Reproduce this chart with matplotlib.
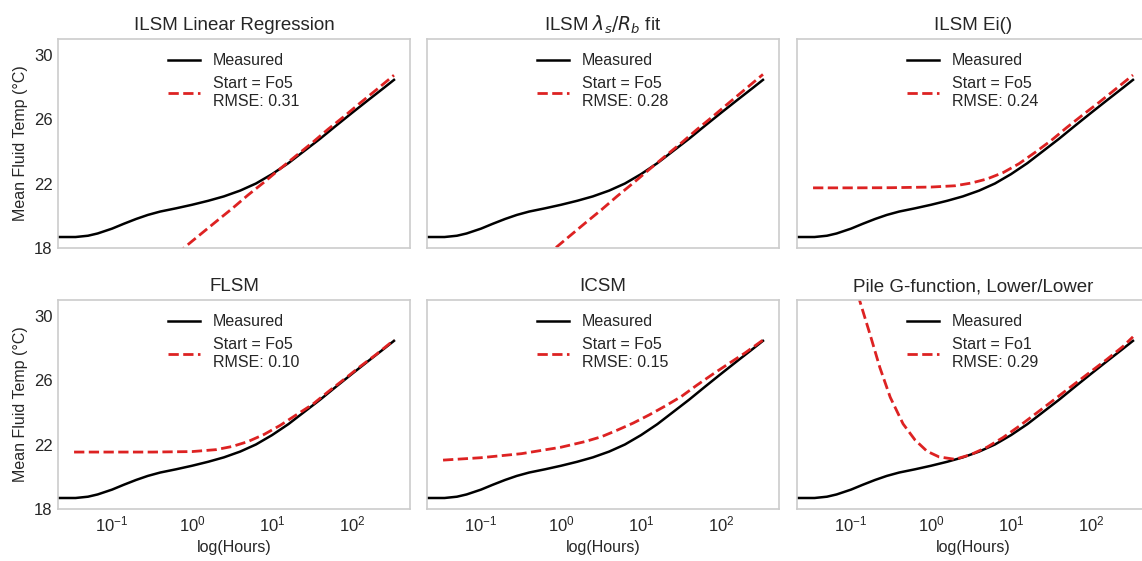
import numpy as np
import matplotlib.pyplot as plt

plt.rcParams['font.family'] = ['Liberation Sans', 'DejaVu Sans']
plt.rcParams['text.color'] = '#262626'
plt.rcParams['axes.labelcolor'] = '#262626'
plt.rcParams['xtick.color'] = '#262626'
plt.rcParams['ytick.color'] = '#262626'

# measured mean fluid temperature
hours_meas = [0.021, 0.035, 0.05, 0.066, 0.1, 0.14, 0.2, 0.28, 0.4, 0.63, 1, 1.6,
              2.5, 4, 6.3, 10, 16, 25, 40, 63, 100, 160, 250, 335]
temp_meas = [18.7, 18.7, 18.78, 18.92, 19.22, 19.52, 19.82, 20.07, 20.28, 20.48, 20.7, 20.95,
             21.22, 21.58, 22.02, 22.6, 23.28, 24.02, 24.8, 25.6, 26.4, 27.2, 27.95, 28.45]

# model curves (common time grid)
hours_model = [0.0335, 0.1, 0.32, 1, 2, 3.2, 5, 8, 12.6, 20, 32, 50, 80, 126, 200, 335]
ilsm_lr = [12.42, 14.36, 16.4, 18.44, 19.66, 20.48, 21.3, 22.11, 22.93, 23.74, 24.56, 25.38,
           26.19, 27.01, 27.82, 28.74]
ilsm_fit = [12.19, 14.16, 16.24, 18.31, 19.56, 20.39, 21.22, 22.05, 22.88, 23.71, 24.54, 25.37,
            26.2, 27.03, 27.86, 28.79]
ilsm_ei = [21.75, 21.75, 21.76, 21.8, 21.88, 22.05, 22.3, 22.7, 23.25, 23.95, 24.7, 25.5,
           26.3, 27.05, 27.85, 28.75]
flsm = [21.55, 21.55, 21.55, 21.58, 21.7, 21.9, 22.2, 22.65, 23.2, 23.85, 24.5, 25.28,
        26.07, 26.85, 27.6, 28.5]
icsm = [21.05, 21.2, 21.45, 21.85, 22.2, 22.5, 22.9, 23.35, 23.85, 24.4, 25.0, 25.7,
        26.4, 27.05, 27.7, 28.5]

# pile g-function has its own grid (steep early part)
hours_pile = [0.0335, 0.063, 0.1, 0.129, 0.174, 0.229, 0.309, 0.447, 0.631, 0.891, 1.26, 2.0,
              3.16, 5.0, 7.94, 12.6, 20, 31.6, 56, 100, 158, 251, 335]
pile = [40.0, 35.5, 32.8, 30.9, 28.8, 26.8, 24.95, 23.3, 22.3, 21.6, 21.25, 21.1,
        21.4, 21.85, 22.45, 23.15, 23.9, 24.65, 25.6, 26.55, 27.3, 28.1, 28.7]

titles = ["ILSM Linear Regression", r"ILSM $\lambda_s/R_b$ fit", "ILSM Ei()",
          "FLSM", "ICSM", "Pile G-function, Lower/Lower"]
fits = [(hours_model, ilsm_lr), (hours_model, ilsm_fit), (hours_model, ilsm_ei),
        (hours_model, flsm), (hours_model, icsm), (hours_pile, pile)]
starts = ["Fo5", "Fo5", "Fo5", "Fo5", "Fo5", "Fo1"]
rmse = [0.31, 0.28, 0.24, 0.10, 0.15, 0.29]

fig = plt.figure(figsize=(11.42, 5.61), dpi=100)

lefts = [0.0508, 0.3739, 0.6979]
bottoms = [0.5574, 0.0922]
w, h = 0.3082, 0.3735

for i in range(6):
    row, col = divmod(i, 3)
    ax = fig.add_axes([lefts[col], bottoms[row], w, h])
    ax.plot(hours_meas, temp_meas, color='black', lw=1.8, label="Measured")
    x, y = fits[i]
    ax.plot(x, y, color='#dd2222', lw=2, linestyle='--',
            label=f"Start = {starts[i]}\nRMSE: {rmse[i]:.2f}")
    ax.set_xscale('log')
    ax.set_xlim(0.0211, 531)
    ax.set_ylim(18, 31)
    ax.set_yticks([18, 22, 26, 30])
    ax.set_xticks([0.1, 1, 10, 100])
    ax.minorticks_off()
    ax.tick_params(length=0, pad=4, labelsize=12)
    for s in ax.spines.values():
        s.set_color('#cccccc')
        s.set_linewidth(1.2)
    ax.set_title(titles[i], fontsize=13.5)
    ax.legend(loc='upper center', frameon=False, fontsize=11.5)
    if col == 0:
        ax.set_ylabel("Mean Fluid Temp (°C)", fontsize=11.5)
    else:
        ax.set_yticklabels([])
    if row == 1:
        ax.set_xlabel("log(Hours)", fontsize=11.5)
    else:
        ax.set_xticklabels([])

fig.savefig("out.png", dpi=100)
